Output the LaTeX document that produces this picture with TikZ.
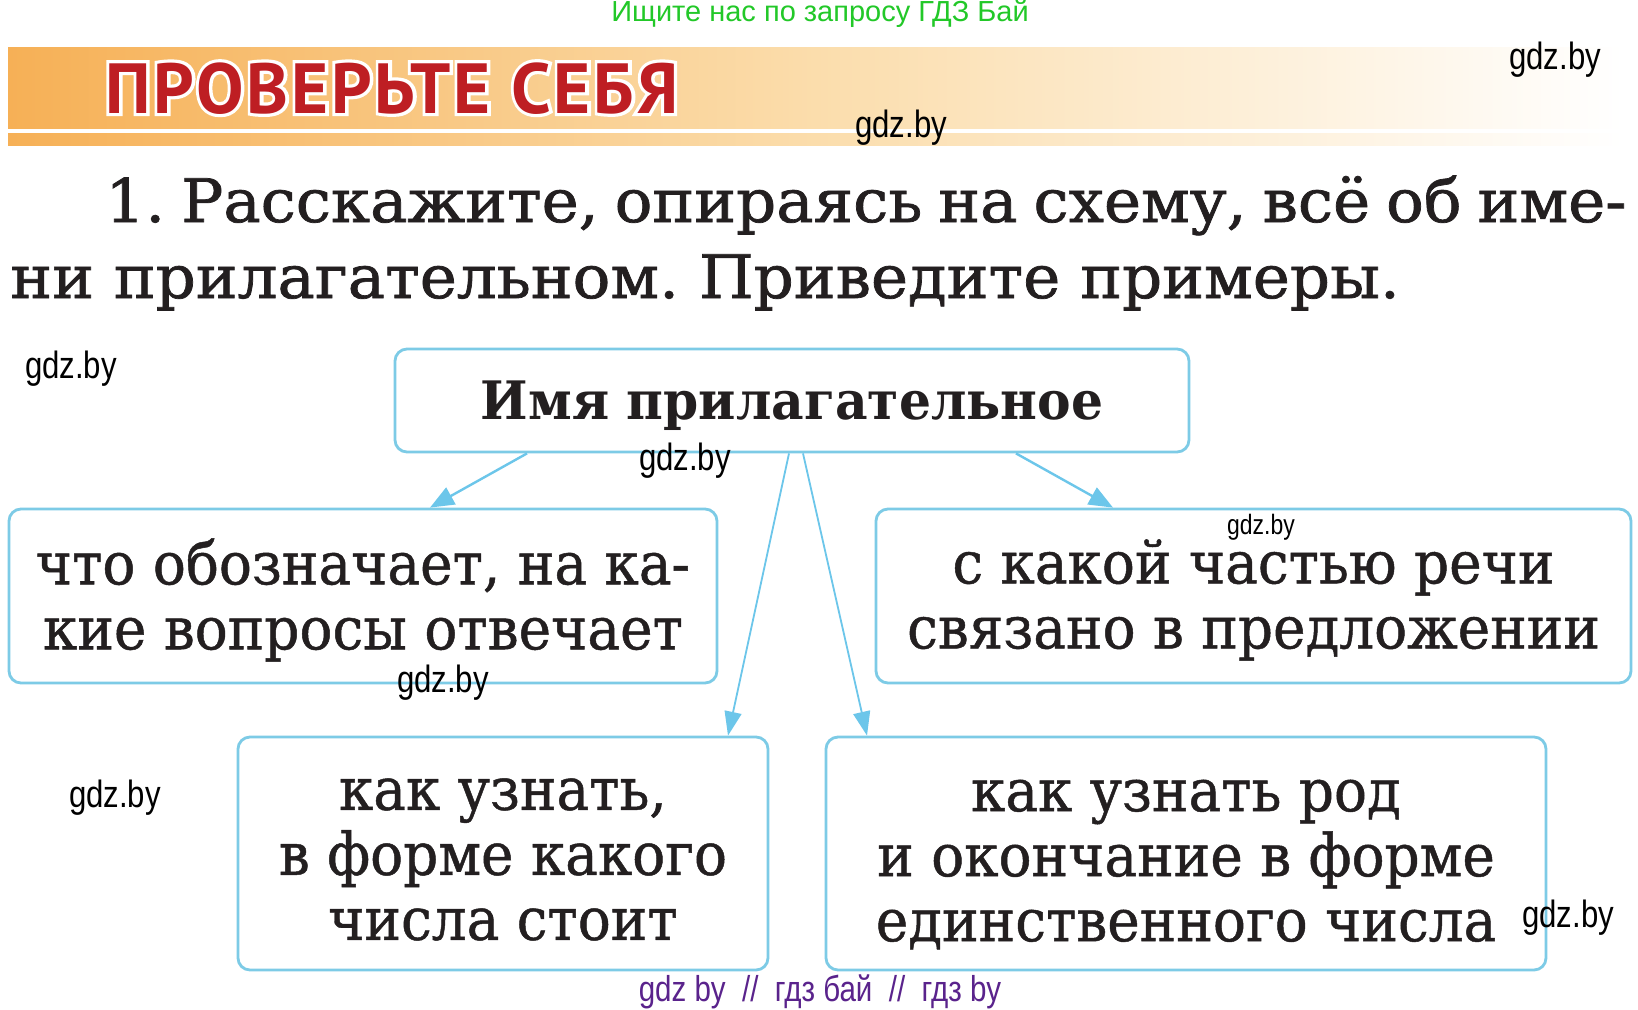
\documentclass[tikz,border=0pt]{standalone}
\usepackage{fontspec}
\setmainfont{DejaVu Serif}
\newfontfamily\titlefont[FakeStretch=1.045,FakeBold=1.2]{DejaVu Serif}
\newfontfamily\boxfont[FakeStretch=0.93,FakeBold=0.8]{DejaVu Serif}
\newfontfamily\headfont[FakeStretch=0.95]{DejaVu Serif Bold}
\newfontfamily\bannerfont[LetterSpace=4]{PT Sans Bold}
\newfontfamily\bannerhalo[LetterSpace=4,FakeBold=9]{PT Sans Bold}
\newfontfamily\wmfont[FakeStretch=0.82]{Liberation Sans}
\newfontfamily\greenfont{Liberation Sans}
\usetikzlibrary{arrows.meta,calc}
\definecolor{boxblue}{RGB}{125,203,230}
\definecolor{arrowblue}{RGB}{108,198,234}
\definecolor{bannerorange}{RGB}{246,176,86}
\definecolor{bannermid}{RGB}{251,221,172}
\definecolor{titlered}{RGB}{190,30,35}
\definecolor{wmgreen}{RGB}{34,200,40}
\definecolor{wmpurple}{RGB}{90,35,140}
\definecolor{ink}{RGB}{35,31,32}
\newcommand\myoutline[1]{\rlap{\bannerhalo\color{white}#1}{\bannerfont\color{titlered}#1}}
\tikzset{
  infobox/.style={draw=boxblue, line width=1.4pt, rounded corners=6pt, inner sep=0pt},
  boxtext/.style={align=center, text=ink, inner sep=0pt, font={\boxfont\fontsize{29.5}{32.5}\selectfont}},
  conn/.style={draw=arrowblue, line width=1.2pt, -{Triangle[length=12pt,width=9.5pt]}},
  thinconn/.style={draw=arrowblue, line width=0.9pt, -{Triangle[length=12pt,width=8.5pt]}},
  wm/.style={text=black, font={\wmfont\fontsize{19}{19}\selectfont}, inner sep=0pt},
  titleline/.style={anchor=base west, inner sep=0pt, text=ink, font={\titlefont\fontsize{30}{36}\selectfont}},
  bannertext/.style={anchor=base west, inner sep=0pt, font={\fontsize{35.5}{35.5}\selectfont}},
}
\begin{document}
\frenchspacing
\begin{tikzpicture}[x=0.5pt,y=-0.5pt]
\useasboundingbox (0,0) rectangle (1638,1009);
\fill[white] (0,0) rectangle (1638,1009);
% top green line
\node[text=wmgreen, font={\greenfont\fontsize{14.5}{14.5}\selectfont}, inner sep=0pt] (green) at (820,14) {Ищите нас по запросу ГДЗ Бай};
% banner
\shade[left color=bannerorange, right color=white, middle color=bannermid] (8,47) rectangle (1623,145);
\fill[white] (8,129) rectangle (1623,133);
\node[bannertext] (banner) at (105,113) {\myoutline{ПРОВЕРЬТЕ СЕБЯ}};
% task text
\node[titleline] (line1) at (105,222) {\makebox[760.5pt][s]{1. Расскажите, опираясь на схему, всё об име-}};
\node[titleline] (line2) at (10,298) {ни прилагательном. Приведите примеры.};
% boxes
\node[infobox, minimum width=397pt, minimum height=51.5pt] (top) at (792,400.5) {};
\node[infobox, minimum width=354pt, minimum height=87pt] (left) at (363,596) {};
\node[infobox, minimum width=377.5pt, minimum height=87pt] (right) at (1253.5,596) {};
\node[infobox, minimum width=265pt, minimum height=116.5pt] (bl) at (503,853.5) {};
\node[infobox, minimum width=360pt, minimum height=116.5pt] (br) at (1186,853.5) {};
% box texts
\node[boxtext, font={\headfont\fontsize{26.5}{30}\selectfont}] (toptext) at ($(top.center)+(0,5)$) {Имя прилагательное};
\node[boxtext] (lefttext) at ($(left.center)+(0,4)$) {что обозначает, на ка-\\кие вопросы отвечает};
\node[boxtext] (righttext) at ($(right.center)+(0,4)$) {с какой частью речи\\связано в предложении};
\node[boxtext] (bltext) at ($(bl.center)+(0,6)$) {как узнать,\\в форме какого\\числа стоит};
\node[boxtext] (brtext) at ($(br.center)+(0,11)$) {как узнать род\\и окончание в форме\\единственного числа};
% connectors
\draw[conn] ([xshift=-132.5pt]top.south) -- ([xshift=33.5pt]left.north);
\draw[conn] ([xshift=112pt]top.south) -- ([xshift=-70.25pt]right.north);
\draw[thinconn] ([xshift=-1.5pt]top.south) -- ([xshift=112.5pt]bl.north);
\draw[thinconn] ([xshift=5.5pt]top.south) -- ([xshift=-159.5pt]br.north);
% watermarks
\node[wm] (w1) at (1555,60) {gdz.by};
\node[wm] (w2) at (901,128) {gdz.by};
\node[wm] (w3) at (71,369) {gdz.by};
\node[wm] (w4) at (685,461) {gdz.by};
\node[wm, font={\wmfont\fontsize{14}{14}\selectfont}] (w5) at (1261,527) {gdz.by};
\node[wm] (w6) at (443,683) {gdz.by};
\node[wm] (w7) at (115,798) {gdz.by};
\node[wm] (w8) at (1568,918) {gdz.by};
\node[text=wmpurple, font={\wmfont\fontsize{18}{18}\selectfont}, inner sep=0pt] (purple) at (820,992) {gdz by\ \ //\ \ гдз бай\ \ //\ \ гдз by};
\end{tikzpicture}
\end{document}
